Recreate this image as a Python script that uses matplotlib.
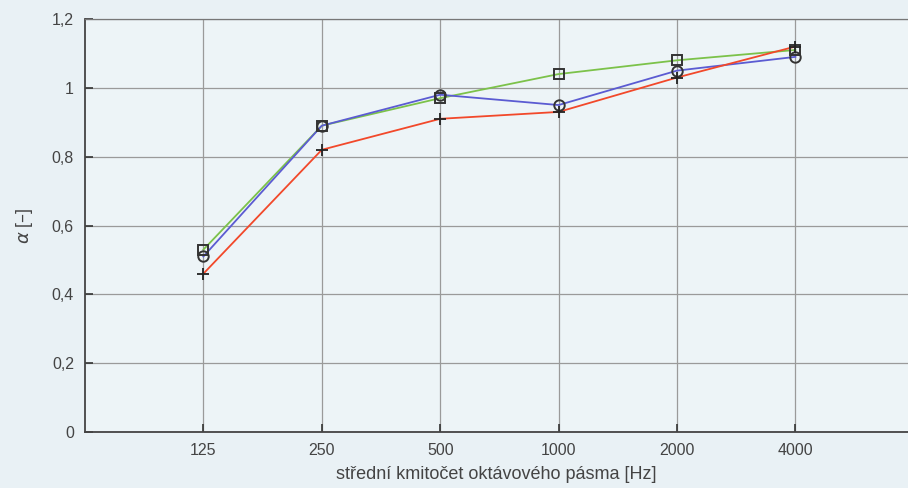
import matplotlib
matplotlib.use("Agg")
import matplotlib.pyplot as plt
import numpy as np

plt.rcParams['font.family'] = ['Liberation Sans', 'DejaVu Sans']

freqs = ["125", "250", "500", "1000", "2000", "4000"]
green_sq = [0.53, 0.89, 0.97, 1.04, 1.08, 1.11]
blue_circ = [0.51, 0.89, 0.98, 0.95, 1.05, 1.09]
red_plus = [0.46, 0.82, 0.91, 0.93, 1.03, 1.12]
yticks = [0, 0.2, 0.4, 0.6, 0.8, 1.0, 1.2]
ytick_labels = ["0", "0,2", "0,4", "0,6", "0,8", "1", "1,2"]

bg = "#e9f1f5"
fig = plt.figure(figsize=(9.08, 4.88), dpi=100, facecolor=bg)
ax = fig.add_axes([85/908, 1-432/488, 1-85/908, (432-19)/488])
ax.set_facecolor("#edf4f7")

x = np.arange(1, len(freqs)+1)
ax.plot(x, green_sq, color="#7cc24a", lw=1.3, zorder=3)
ax.plot(x, blue_circ, color="#5b5bd2", lw=1.3, zorder=3)
ax.plot(x, red_plus, color="#f2482a", lw=1.3, zorder=3)
ax.plot(x, green_sq, ls="none", marker="s", ms=7.5, mfc="none", mec="#333333", mew=1.4, zorder=4)
ax.plot(x, blue_circ, ls="none", marker="o", ms=7.5, mfc="none", mec="#333333", mew=1.4, zorder=4)
ax.plot(x, red_plus, ls="none", marker="+", ms=9, mec="#222222", mew=1.3, zorder=4)

ax.set_xlim(0, (908-85)/118.4)
ax.set_ylim(0, 1.2)
ax.set_xticks(x)
ax.set_xticklabels(freqs)
ax.set_yticks(yticks)
ax.set_yticklabels(ytick_labels)
ax.grid(True, color="#9a9a9a", lw=0.9, zorder=1)
ax.tick_params(direction="in", length=6, width=1.2, color="#333333", labelsize=11.5, labelcolor="#444444", pad=8)
for s in ["left", "bottom", "top"]:
    ax.spines[s].set_color("#444444")
    ax.spines[s].set_linewidth(1.3)
ax.spines["right"].set_visible(False)
ax.spines["top"].set_linewidth(0.9)
ax.spines["top"].set_color("#777777")

ax.set_xlabel("střední kmitočet oktávového pásma [Hz]", fontsize=13, color="#444444", labelpad=6)
ax.set_ylabel(r"$\alpha$ [–]", fontsize=13, color="#444444", labelpad=12)

fig.savefig("out.png", dpi=100, facecolor=bg)
